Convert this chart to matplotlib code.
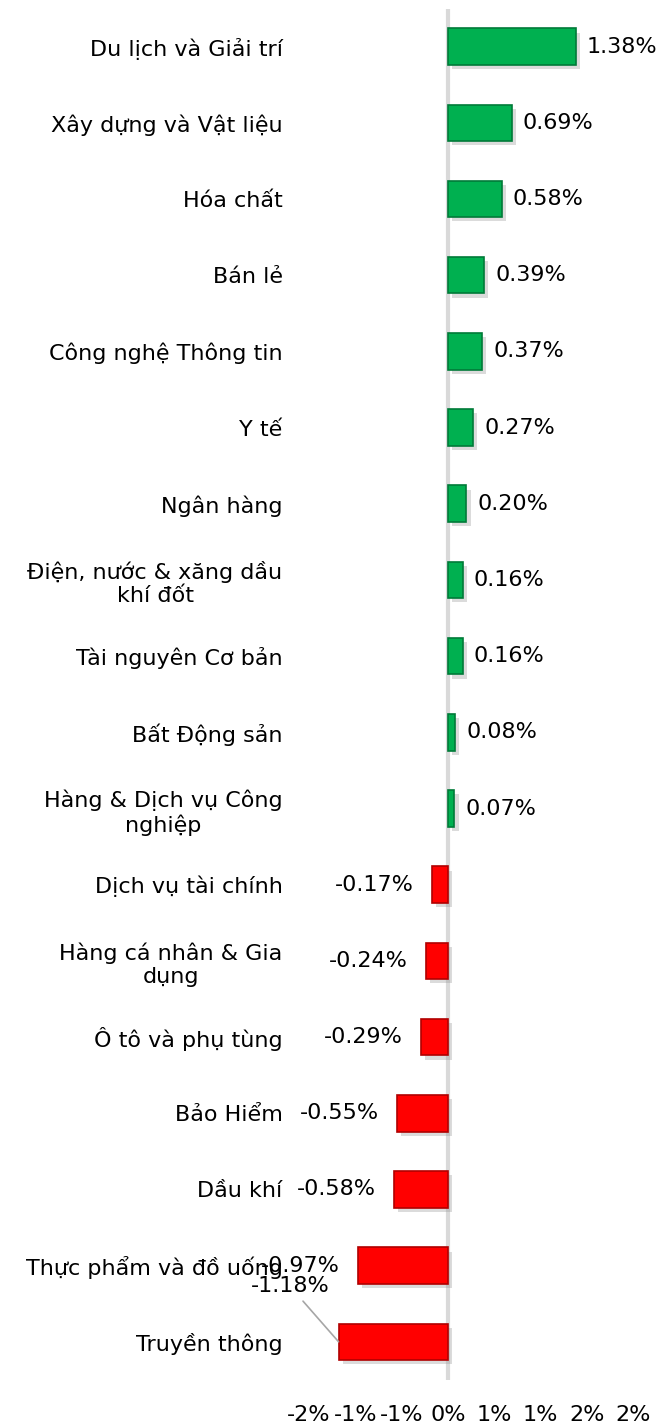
import matplotlib
matplotlib.use("Agg")
import matplotlib.pyplot as plt
import matplotlib.patheffects as pe
import numpy as np

# sector performance (%)
sectors = ["Du lịch và Giải trí", "Xây dựng và Vật liệu", "Hóa chất", "Bán lẻ",
           "Công nghệ Thông tin", "Y tế", "Ngân hàng",
           "Điện, nước & xăng dầu\nkhí đốt", "Tài nguyên Cơ bản", "Bất Động sản",
           "Hàng & Dịch vụ Công\nnghiệp", "Dịch vụ tài chính",
           "Hàng cá nhân & Gia\ndụng", "Ô tô và phụ tùng", "Bảo Hiểm", "Dầu khí",
           "Thực phẩm và đồ uống", "Truyền thông"]
changes = [1.38, 0.69, 0.58, 0.39, 0.37, 0.27, 0.20, 0.16, 0.16, 0.08, 0.07,
           -0.17, -0.24, -0.29, -0.55, -0.58, -0.97, -1.18]
xticks = [-1.5, -1.0, -0.5, 0.0, 0.5, 1.0, 1.5, 2.0]

GREEN = "#00b050"
GREEN_EDGE = "#007a38"
RED = "#ff0000"
RED_EDGE = "#b00000"


def pct_label(v):
    # excel style rounding (half away from zero)
    r = int(np.floor(abs(v) + 0.5)) * (1 if v >= 0 else -1)
    return "{}%".format(r).replace("−", "-")


fig = plt.figure(figsize=(6.63, 14.27), dpi=100)
ax = fig.add_axes([0.466, 0.033, 0.489, 0.961])

y = np.arange(len(sectors))
colors = [GREEN if v >= 0 else RED for v in changes]
edges = [GREEN_EDGE if v >= 0 else RED_EDGE for v in changes]
bars = ax.barh(y, changes, height=0.48, color=colors, edgecolor=edges,
               linewidth=1.2, zorder=3)
for b in bars:
    b.set_path_effects([pe.SimplePatchShadow(offset=(3, -3), shadow_rgbFace="#999999",
                                             alpha=0.35), pe.Normal()])

ax.axvline(0, color="#d9d9d9", lw=3, zorder=1)

for i, v in enumerate(changes):
    txt = "{:.2f}%".format(v)
    if i == len(changes) - 1:
        ax.annotate(txt, xy=(v, i), xytext=(-35, 40), textcoords="offset points",
                    ha="center", va="center", fontsize=16,
                    arrowprops=dict(arrowstyle="-", color="#a6a6a6", lw=1.2,
                                    shrinkA=2, shrinkB=0))
    elif v >= 0:
        ax.annotate(txt, xy=(v, i), xytext=(8, 0), textcoords="offset points",
                    ha="left", va="center", fontsize=16)
    else:
        ax.annotate(txt, xy=(v, i), xytext=(-13, 0), textcoords="offset points",
                    ha="right", va="center", fontsize=16)

ax.set_xlim(-1.5, 2.0)
ax.set_ylim(len(sectors) - 0.5, -0.5)
ax.set_xticks(xticks)
ax.set_xticklabels([pct_label(t) for t in xticks], fontsize=16)
ax.set_yticks(y)
ax.set_yticklabels(sectors, fontsize=16, multialignment="center")
ax.tick_params(axis="y", length=0, pad=19)
ax.tick_params(axis="x", length=0, pad=18)
for s in ax.spines.values():
    s.set_visible(False)

plt.savefig("out.png", dpi=100)
